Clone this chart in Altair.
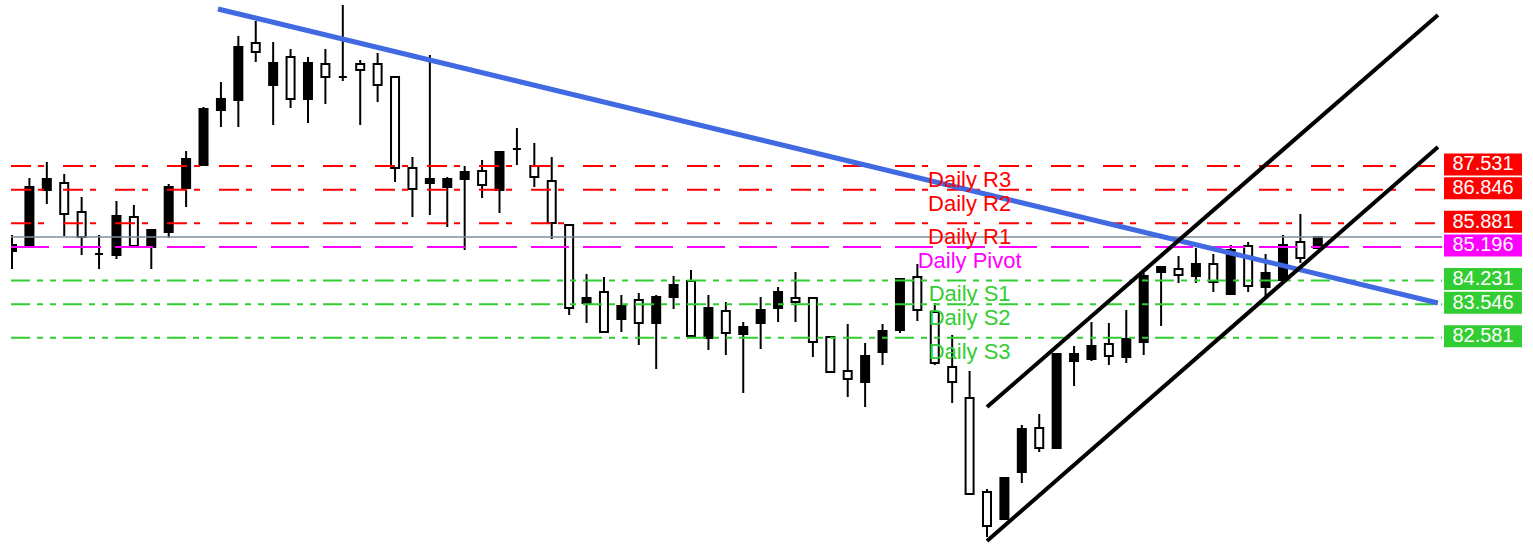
import altair as alt
import pandas as pd

# ---------------- candles (oldest -> newest) ----------------
opens = [85.080, 85.196, 86.839, 87.041, 86.205, 84.994, 84.965, 86.061, 85.196, 85.628,
         86.897, 87.560, 89.145, 89.433, 91.076, 89.866, 90.673, 89.462, 90.471, 90.096,
         90.471, 90.471, 90.096, 87.473, 87.041, 86.925, 87.156, 87.387, 86.839, 88.021,
         87.531, 87.098, 85.830, 83.581, 83.899, 83.120, 83.668, 83.005, 83.754, 84.216,
         82.572, 83.351, 82.688, 83.005, 83.437, 83.726, 83.726, 82.601, 81.621, 81.304,
         82.169, 82.803, 84.331, 83.322, 81.736, 80.843, 78.133, 77.355, 78.710, 79.978,
         79.401, 81.909, 81.967, 82.399, 82.025, 82.457, 84.475, 84.562, 84.360, 84.706,
         83.841, 85.225, 84.043, 84.244, 85.340, 85.167]
highs = [85.542, 87.185, 87.646, 87.300, 86.637, 85.542, 86.522, 86.406, 85.686, 87.012,
         87.963, 89.231, 89.952, 91.278, 91.711, 91.105, 90.903, 90.673, 90.903, 92.172,
         90.586, 90.788, 90.096, 87.790, 90.731, 87.214, 87.531, 87.704, 87.934, 88.626,
         88.194, 87.790, 85.830, 84.417, 84.331, 83.812, 83.870, 83.812, 84.360, 84.533,
         83.812, 83.610, 83.034, 83.754, 84.043, 84.475, 83.726, 82.601, 82.976, 82.428,
         82.976, 84.273, 84.706, 83.581, 82.659, 81.621, 78.220, 78.537, 80.065, 80.382,
         82.111, 82.342, 83.034, 83.005, 83.380, 84.446, 84.619, 84.936, 85.167, 84.994,
         85.253, 85.340, 84.994, 85.542, 86.147, 85.484]
lows = [84.562, 85.196, 86.435, 85.513, 84.965, 84.562, 84.850, 85.196, 84.562, 85.455,
        86.349, 87.560, 88.655, 88.655, 90.529, 88.713, 89.203, 88.770, 89.318, 89.981,
        88.713, 89.376, 87.069, 86.061, 86.118, 85.772, 85.109, 86.608, 86.176, 87.560,
        86.925, 85.426, 83.235, 83.005, 82.745, 82.745, 82.371, 81.679, 83.408, 82.630,
        82.227, 82.082, 80.987, 82.255, 83.034, 83.034, 82.025, 81.592, 80.872, 80.583,
        81.794, 82.717, 83.062, 81.794, 80.699, 78.075, 76.836, 77.355, 78.393, 79.286,
        79.401, 81.189, 81.909, 81.794, 81.852, 82.082, 82.918, 84.158, 84.158, 83.899,
        83.841, 83.899, 83.754, 84.244, 84.734, 85.167]
closes = [85.253, 86.925, 87.156, 86.147, 85.484, 84.994, 86.089, 85.225, 85.686, 86.925,
          87.732, 89.174, 89.462, 90.961, 90.817, 90.500, 89.462, 90.500, 90.096, 90.096,
          90.298, 89.866, 87.473, 86.868, 87.156, 87.156, 87.358, 86.983, 87.934, 88.021,
          87.214, 85.888, 83.437, 83.726, 82.745, 83.495, 83.005, 83.754, 84.100, 82.630,
          83.437, 82.717, 82.890, 83.380, 83.899, 83.610, 82.457, 81.592, 81.391, 82.054,
          82.774, 84.273, 83.380, 81.852, 81.304, 78.075, 77.153, 78.537, 79.949, 79.401,
          82.111, 82.111, 82.342, 82.054, 82.544, 84.360, 84.619, 84.389, 84.706, 84.187,
          85.109, 84.071, 84.446, 85.253, 84.879, 85.484]

# ---------------- daily pivot levels ----------------
level_names = ["Daily R3", "Daily R2", "Daily R1", "Daily Pivot", "Daily S1", "Daily S2", "Daily S3"]
level_values = [87.531, 86.846, 85.881, 85.196, 84.231, 83.546, 82.581]
level_texts = ["87.531", "86.846", "85.881", "85.196", "84.231", "83.546", "82.581"]
level_kinds = ["R", "R", "R", "P", "S", "S", "S"]

bid_price = 85.484

# trend line and channel (bar index, price)
trend_x = [11.83, 81.9]
trend_y = [92.057, 83.581]
chan_up_x = [56.0, 81.9]
chan_up_y = [80.583, 91.884]
chan_lo_x = [56.0, 81.9]
chan_lo_y = [76.720, 88.078]

# ---------------- frames ----------------
X0, X1 = -0.0574, 87.36
LINE_END = 82.14
LABEL_BAR = 55

candles = pd.DataFrame({"i": list(range(len(opens))), "open": opens, "high": highs,
                        "low": lows, "close": closes})
levels = pd.DataFrame({"name": level_names, "value": level_values, "txt": level_texts,
                       "kind": level_kinds, "x0": X0, "x1": LINE_END, "xl": LABEL_BAR})
bid = pd.DataFrame({"value": [bid_price], "x0": [X0], "x1": [LINE_END]})
segs = pd.DataFrame({
    "line": ["trend", "up", "lo"],
    "xa": [trend_x[0], chan_up_x[0], chan_lo_x[0]],
    "xb": [trend_x[1], chan_up_x[1], chan_lo_x[1]],
    "ya": [trend_y[0], chan_up_y[0], chan_lo_y[0]],
    "yb": [trend_y[1], chan_up_y[1], chan_lo_y[1]],
})

xs = alt.Scale(domain=[X0, X1], nice=False, zero=False, padding=0)
ys = alt.Scale(domain=[76.49, 92.316], nice=False, zero=False, padding=0)
X = lambda f: alt.X(f, type="quantitative", scale=xs, axis=None)
Y = lambda f: alt.Y(f, type="quantitative", scale=ys, axis=None)

kind_color = alt.Color("kind:N", scale=alt.Scale(domain=["R", "P", "S"],
                       range=["#ff0000", "#ff00ff", "#32cd32"]), legend=None)

wicks = alt.Chart(candles).mark_rule(color="black", strokeWidth=2, clip=True).encode(
    x=X("i"), y=Y("low"), y2="high")
bodies = alt.Chart(candles).mark_bar(size=8, stroke="black", strokeWidth=2, clip=True).encode(
    x=X("i"), y=Y("open"), y2="close",
    fill=alt.condition("datum.close > datum.open", alt.value("black"), alt.value("white")))

def level_rule(kind, dash, color):
    return alt.Chart(levels).transform_filter(f"datum.kind == '{kind}'").mark_rule(
        color=color, strokeWidth=2, strokeDash=dash).encode(x=X("x0"), x2="x1", y=Y("value"))

red_lines = level_rule("R", [20, 7, 6, 19], "#ff0000")
pivot_line = level_rule("P", [38, 14], "#ff00ff")
green_lines = level_rule("S", [19, 7, 6, 7, 6, 7], "#32cd32")

bid_line = alt.Chart(bid).mark_rule(color="#7f8c99", strokeWidth=1.5).encode(
    x=X("x0"), x2="x1", y=Y("value"))

trend = alt.Chart(segs).transform_filter("datum.line == 'trend'").mark_rule(
    color="#4169e1", strokeWidth=5).encode(x=X("xa"), x2="xb", y=Y("ya"), y2="yb")
channel = alt.Chart(segs).transform_filter("datum.line != 'trend'").mark_rule(
    color="black", strokeWidth=4).encode(x=X("xa"), x2="xb", y=Y("ya"), y2="yb")

level_labels = alt.Chart(levels).mark_text(
    align="center", baseline="alphabetic", dy=21, fontSize=22, font="Liberation Sans").encode(
    x=X("xl"), y=Y("value"), text="name:N", color=kind_color)

boxes = alt.Chart(levels).mark_rect(yOffset=-12.5, y2Offset=9.5).encode(
    x=alt.value(1433), x2=alt.value(1511), y=Y("value"), y2="value", color=kind_color)
box_text = alt.Chart(levels).mark_text(
    align="center", baseline="middle", dy=-1.5, fontSize=20, font="Liberation Sans",
    color="white").encode(x=alt.value(1472), y=Y("value"), text="txt:N")

chart = alt.layer(
    wicks, bodies, red_lines, pivot_line, green_lines, bid_line, trend, channel,
    level_labels, boxes, box_text
).properties(
    width=1522, height=549,
    padding={"left": 11, "top": 0, "right": 0, "bottom": 0},
    autosize="none", background="white"
).configure_view(stroke=None)

chart.save("out.html", embed_options={"renderer": "svg", "actions": False})
